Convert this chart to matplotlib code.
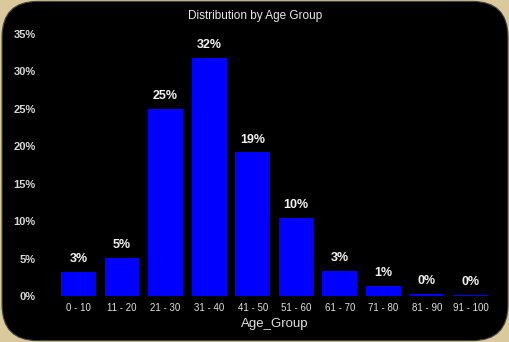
import matplotlib
matplotlib.use('Agg')
import matplotlib.pyplot as plt
from matplotlib.patches import FancyBboxPatch
from matplotlib.ticker import FuncFormatter

# ── Data ──────────────────────────────────────────────────────────────────
age_groups = ['0 - 10', '11 - 20', '21 - 30', '31 - 40', '41 - 50',
              '51 - 60', '61 - 70', '71 - 80', '81 - 90', '91 - 100']
share_pct = [3.2, 5.1, 25.0, 31.8, 19.2, 10.4, 3.4, 1.4, 0.3, 0.15]
y_ticks = [0, 5, 10, 15, 20, 25, 30, 35]

plt.rcParams['font.family'] = ['Liberation Sans', 'DejaVu Sans']

fig = plt.figure(figsize=(5.1, 3.42), dpi=100)
fig.patch.set_facecolor('#d9c99c')

# black rounded panel (behind the axes)
panel = FancyBboxPatch((0.004, 0.004), 0.992, 0.992,
                       boxstyle='round,pad=0,rounding_size=0.07',
                       transform=fig.transFigure, facecolor='black',
                       edgecolor='#444444', linewidth=0.8,
                       mutation_aspect=510 / 342, zorder=-10)
fig.patches.append(panel)

ax = fig.add_axes([56.7 / 510, 1 - 296 / 342, (492.3 - 56.7) / 510, (296 - 34) / 342])
ax.set_facecolor('none')
ax.set_zorder(5)

x = range(len(age_groups))
bars = ax.bar(x, share_pct, width=0.8, color='#0000ff', zorder=3)
for bar, v in zip(bars, share_pct):
    ax.text(bar.get_x() + bar.get_width() / 2, bar.get_height() + 0.9,
            f'{v:.0f}%', ha='center', va='bottom', color='#f2f2f2',
            fontsize=9, fontweight='bold')

ax.set_xlim(-0.5, len(age_groups) - 0.5)
ax.set_ylim(0, 35)
ax.set_yticks(y_ticks)
ax.yaxis.set_major_formatter(FuncFormatter(lambda v, _: f'{v:.0f}%'))
ax.set_xticks(list(x))
ax.set_xticklabels(age_groups)
ax.tick_params(axis='y', length=0, pad=15, colors='#d8d8d8', labelsize=8)
ax.tick_params(axis='x', length=0, pad=5, colors='#e0e0e0', labelsize=7)
for lab in ax.get_yticklabels():
    lab.set_fontweight('bold')
for s in ax.spines.values():
    s.set_visible(False)

ax.set_xlabel('Age_Group', color='#e0e0e0', fontsize=9.5, labelpad=4)
fig.text(0.5, 1 - 16 / 342, 'Distribution by Age Group', ha='center',
         va='center', color='#e8e8e8', fontsize=8.5)

fig.savefig('out.png', dpi=100, facecolor=fig.get_facecolor())
